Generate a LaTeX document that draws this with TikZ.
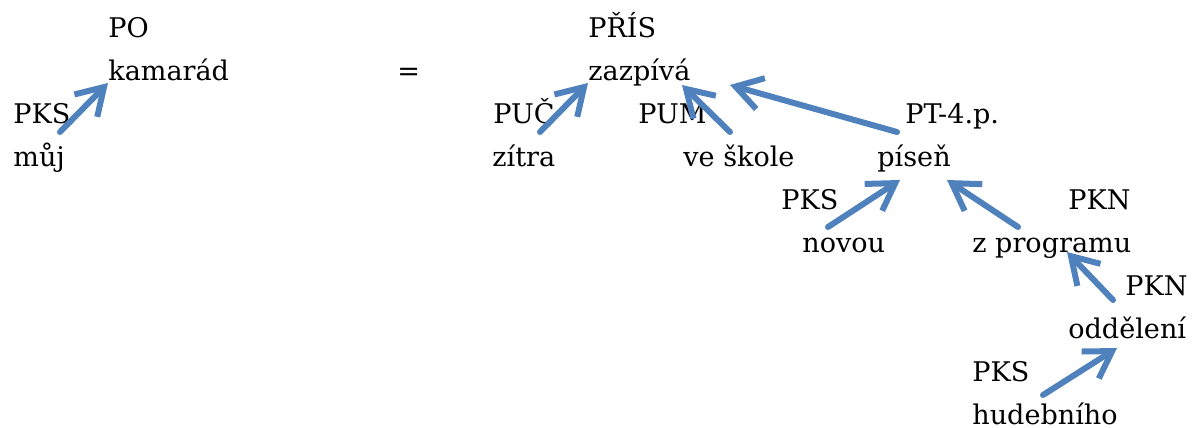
\documentclass[tikz,border=0pt]{standalone}
\usepackage{fontspec}
\setmainfont{DejaVu Serif}
\usepackage{tikz}
\usetikzlibrary{calc}
\usetikzlibrary{arrows.meta}
\definecolor{depblue}{RGB}{79,129,189}
\tikzset{>={Straight Barb[length=0.52cm,width=0.64cm]}}
\tikzset{word/.style={anchor=base west, inner sep=0pt, font=\fontsize{15.4}{18}\selectfont},
  dep/.style={->, draw=depblue, line width=0.12cm, line cap=round, line join=round}}

\begin{document}
\begin{tikzpicture}
  \useasboundingbox (0,0) rectangle (23.88,-8.54);
  % left sentence
  \node[word] (lblpo) at (2.16, -0.74) {PO};
  \node[word] (kamarad) at (2.16, -1.60) {kamarád};
  \node[word] (lblpks) at (0.26, -2.46) {PKS};
  \node[word] (muj) at (0.26, -3.32) {můj};
  \node[word] (eq) at (7.94, -1.60) {=};
  % right sentence
  \node[word] (lblpris) at (11.76, -0.74) {PŘÍS};
  \node[word] (zazpiva) at (11.76, -1.60) {zazpívá};
  \node[word] (lblpuc) at (9.86, -2.46) {PUČ};
  \node[word] (zitra) at (9.84, -3.32) {zítra};
  \node[word] (lblpum) at (12.76, -2.46) {PUM};
  \node[word] (veskole) at (13.66, -3.32) {ve škole};
  \node[word] (lblpt) at (18.10, -2.46) {PT-4.p.};
  \node[word] (pisen) at (17.54, -3.32) {píseň};
  \node[word] (lblpks2) at (15.62, -4.18) {PKS};
  \node[word] (novou) at (16.04, -5.04) {novou};
  \node[word] (lblpkn) at (21.36, -4.18) {PKN};
  \node[word] (zprogramu) at (19.44, -5.04) {z programu};
  \node[word] (lblpkn2) at (22.50, -5.90) {PKN};
  \node[word] (oddeleni) at (21.36, -6.76) {oddělení};
  \node[word] (lblpks3) at (19.44, -7.62) {PKS};
  \node[word] (hudebniho) at (19.44, -8.48) {hudebního};

  \draw[dep] ([shift={(0.94,0.68)}]muj.base west) -- ([shift={(0,-0.06)}]kamarad.base west);
  \draw[dep] ([shift={(0.96,0.68)}]zitra.base west) -- ([shift={(0,-0.06)}]zazpiva.base west);
  \draw[dep] ([shift={(0.94,0.68)}]veskole.base west) -- ([shift={(1.88,-0.10)}]zazpiva.base west);
  \draw[dep] ([shift={(0.40,0.68)}]pisen.base west) -- ([shift={(2.84,-0.10)}]zazpiva.base west);
  \draw[dep] ([shift={(0.52,0.50)}]novou.base west) -- ([shift={(0.46,-0.28)}]pisen.base west);
  \draw[dep] ([shift={(0.92,0.50)}]zprogramu.base west) -- ([shift={(1.40,-0.28)}]pisen.base west);
  \draw[dep] ([shift={(0.90,0.76)}]oddeleni.base west) -- ([shift={(1.90,0)}]zprogramu.base west);
  \draw[dep] ([shift={(1.42,0.58)}]hudebniho.base west) -- ([shift={(0.98,-0.20)}]oddeleni.base west);
\end{tikzpicture}
\end{document}
